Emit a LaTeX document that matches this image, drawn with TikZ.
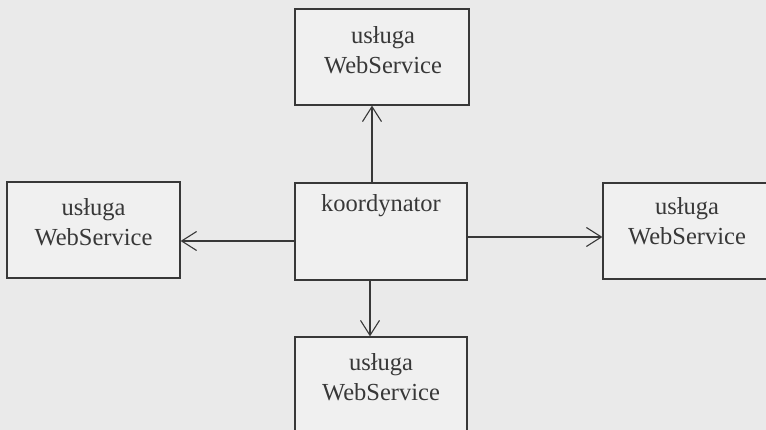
\documentclass[tikz,border=0pt]{standalone}
\usepackage{fontspec}
\setmainfont{Liberation Serif}
\usetikzlibrary{arrows.meta}
\definecolor{bg}{HTML}{EAEAEA}
\definecolor{boxfill}{HTML}{F0F0F0}
\definecolor{ink}{HTML}{383838}
\begin{document}
\begin{tikzpicture}[x=1pt,y=-1pt,
  box/.style={draw=ink, line width=1.2pt, fill=boxfill, rectangle, inner sep=0pt},
  lbl/.style={text=ink, font=\fontsize{24.5}{30}\selectfont, align=center, inner sep=0pt},
  arr/.style={draw=ink, line width=1.1pt, -{Straight Barb[length=15pt,width=19pt,line width=1.1pt]}}]
\useasboundingbox (0,0) rectangle (766,430);
\fill[bg] (0,0) rectangle (766,430);
\begin{scope}
\clip (0,0) rectangle (766,430);
% boxes
\node[box, minimum width=174pt, minimum height=96pt] (top) at (382,57) {};
\node[box, minimum width=173pt, minimum height=96pt] (left) at (93.5,230) {};
\node[box, minimum width=177pt, minimum height=96pt] (right) at (691.5,231) {};
\node[box, minimum width=172pt, minimum height=97pt] (koord) at (381,231.5) {};
\node[box, minimum width=172pt, minimum height=103pt] (bottom) at (381,388.5) {};
% labels
\node[lbl] (toptxt) at (383,50) {usługa\\WebService};
\node[lbl] (lefttxt) at (93.5,222) {usługa\\WebService};
\node[lbl] (righttxt) at (687,221) {usługa\\WebService};
\node[lbl] (koordtxt) at (381,206) {koordynator};
\node[lbl] (bottomtxt) at (381,377) {usługa\\WebService};
% connectors
\coordinate (ta) at ([xshift=-9pt]koord.north);
\coordinate (ba) at ([xshift=-11pt]koord.south);
\coordinate (la) at ([yshift=-9.5pt]koord.west);
\coordinate (ra) at ([yshift=-5.5pt]koord.east);
\draw[arr] (ta) -- (ta |- top.south);
\draw[arr] (ba) -- (ba |- bottom.north);
\draw[arr] (la) -- (la -| left.east);
\draw[arr] (ra) -- (ra -| right.west);
\end{scope}
\end{tikzpicture}
\end{document}
